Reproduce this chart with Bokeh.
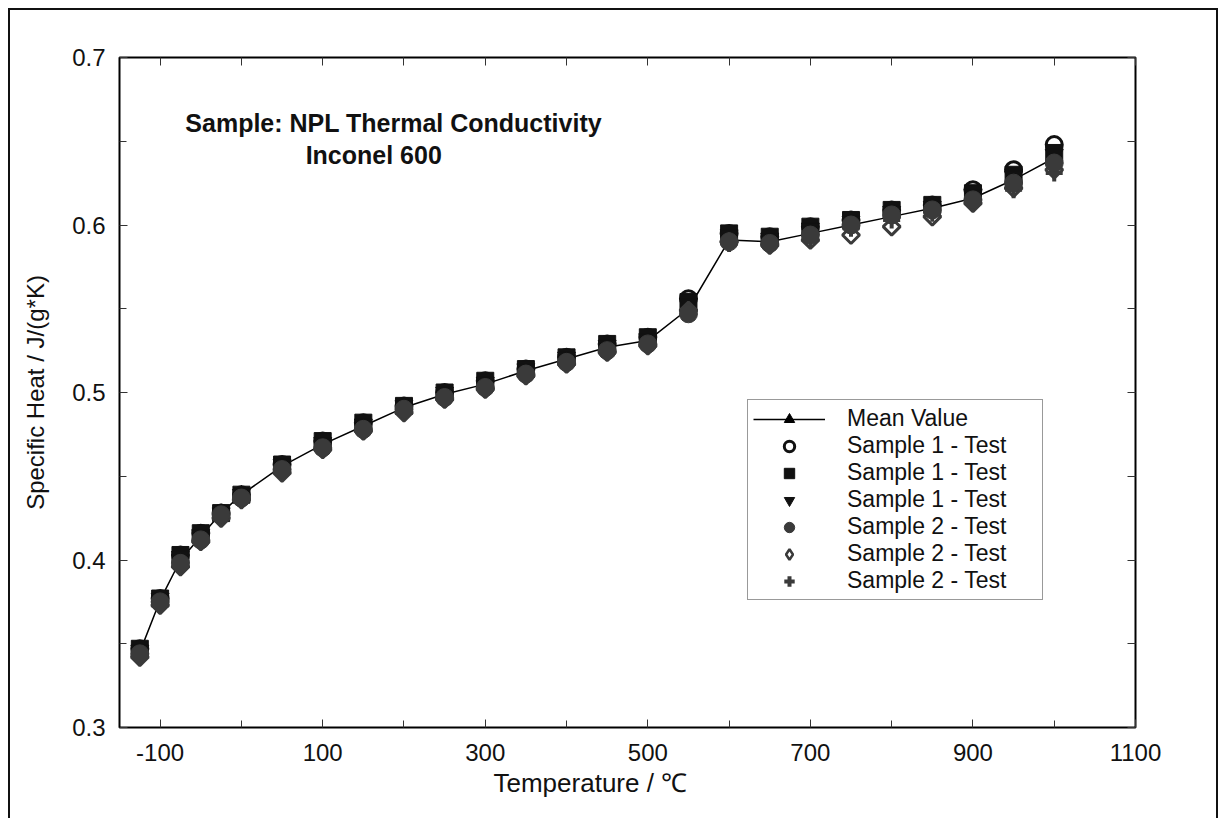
import numpy as np
from bokeh.plotting import figure
from bokeh.models import FixedTicker, LinearAxis, Legend, LegendItem, Label, Range1d, Title
from bokeh.embed import file_html
from bokeh.resources import INLINE

# ---------------- data ----------------
temperature = [-125, -100, -75, -50, -25, 0, 50, 100, 150, 200, 250, 300, 350, 400,
               450, 500, 550, 600, 650, 700, 750, 800, 850, 900, 950, 1000]
mean_value = [0.345, 0.376, 0.400, 0.414, 0.428, 0.439, 0.456, 0.469, 0.480, 0.491, 0.499, 0.505,
              0.513, 0.520, 0.527, 0.531, 0.550, 0.591, 0.590, 0.595, 0.600, 0.605, 0.610, 0.616,
              0.627, 0.640]
s1_test_a = [0.347, 0.377, 0.403, 0.416, 0.428, 0.439, 0.457, 0.471, 0.482, 0.492, 0.500, 0.507,
             0.514, 0.521, 0.529, 0.533, 0.556, 0.595, 0.593, 0.599, 0.603, 0.609, 0.612, 0.621,
             0.633, 0.648]
s1_test_b = [0.347, 0.377, 0.403, 0.416, 0.428, 0.439, 0.457, 0.471, 0.482, 0.492, 0.500, 0.507,
             0.514, 0.521, 0.529, 0.533, 0.554, 0.595, 0.593, 0.599, 0.603, 0.609, 0.612, 0.619,
             0.630, 0.643]
s1_test_c = [0.346, 0.377, 0.402, 0.415, 0.428, 0.439, 0.457, 0.470, 0.481, 0.492, 0.500, 0.506,
             0.514, 0.521, 0.528, 0.532, 0.553, 0.594, 0.592, 0.598, 0.602, 0.608, 0.611, 0.618,
             0.629, 0.642]
s2_test_a = [0.344, 0.375, 0.398, 0.412, 0.427, 0.437, 0.454, 0.467, 0.478, 0.490, 0.497, 0.503,
             0.511, 0.518, 0.525, 0.529, 0.547, 0.590, 0.589, 0.594, 0.600, 0.606, 0.609, 0.615,
             0.625, 0.637]
s2_test_b = [0.342, 0.373, 0.396, 0.411, 0.425, 0.436, 0.452, 0.466, 0.477, 0.488, 0.496, 0.502,
             0.510, 0.517, 0.524, 0.528, 0.549, 0.590, 0.588, 0.591, 0.594, 0.599, 0.605, 0.613,
             0.622, 0.633]
s2_test_c = [0.343, 0.374, 0.397, 0.411, 0.426, 0.437, 0.453, 0.466, 0.477, 0.489, 0.496, 0.502,
             0.510, 0.517, 0.524, 0.528, 0.548, 0.589, 0.588, 0.592, 0.598, 0.603, 0.607, 0.613,
             0.621, 0.631]

series_labels = ["Mean Value", "Sample 1 - Test", "Sample 1 - Test", "Sample 1 - Test",
                 "Sample 2 - Test", "Sample 2 - Test", "Sample 2 - Test"]
x_major = [-100, 100, 300, 500, 700, 900, 1100]
x_minor = [0, 200, 400, 600, 800, 1000]
x_tick_labels = ["-100", "100", "300", "500", "700", "900", "1100"]
y_major = [0.3, 0.4, 0.5, 0.6, 0.7]
y_minor = [0.35, 0.45, 0.55, 0.65]
y_tick_labels = ["0.3", "0.4", "0.5", "0.6", "0.7"]
x_title = "Temperature / \u2103"
y_title = "Specific Heat / J/(g*K)"
note_1 = "Sample: NPL Thermal Conductivity"
note_2 = "Inconel 600"

FONT = "Liberation Sans"
BLACK = "#111111"
GRAY = "#3a3a3a"

p = figure(frame_width=1016, frame_height=670,
           min_border_left=109, min_border_top=47, min_border_right=81, min_border_bottom=91,
           x_range=Range1d(-150, 1100), y_range=Range1d(0.3, 0.7),
           output_backend="svg", toolbar_location=None,
           x_axis_location=None, y_axis_location=None)
p.styles = {"margin-left": "8px", "margin-top": "8px",
            "border-top": "2px solid #111", "border-left": "2px solid #111",
            "border-right": "2px solid #111"}
p.grid.visible = False
p.outline_line_color = "#000000"
p.outline_line_width = 2
p.background_fill_color = "white"
p.border_fill_color = "white"

xt = FixedTicker(ticks=x_major, minor_ticks=x_minor)
yt = FixedTicker(ticks=y_major, minor_ticks=y_minor)
# mirror axes: every tick position drawn as an unlabelled (minor) tick
xt_mirror = FixedTicker(ticks=[], minor_ticks=sorted(x_major + x_minor))
yt_mirror = FixedTicker(ticks=[], minor_ticks=sorted(y_major + y_minor))


def style_axis(ax):
    ax.axis_line_color = None
    ax.major_tick_in = 8
    ax.major_tick_out = 0
    ax.minor_tick_in = 7
    ax.minor_tick_out = 0
    ax.major_tick_line_color = "#333333"
    ax.minor_tick_line_color = "#333333"
    ax.major_tick_line_width = 1
    ax.minor_tick_line_width = 1
    ax.major_label_text_font = FONT
    ax.major_label_text_font_size = "24px"
    ax.major_label_text_color = "#111111"


xb = LinearAxis(ticker=xt, major_label_overrides=dict(zip(x_major, x_tick_labels)))
style_axis(xb)
xb.major_label_standoff = 16
p.add_layout(xb, "below")
p.add_layout(Title(text=x_title, align="left", offset=374, standoff=4, text_font=FONT,
                   text_font_size="26px", text_font_style="normal", text_color="#111111"),
             "below")

yl = LinearAxis(ticker=yt, major_label_overrides=dict(zip(y_major, y_tick_labels)),
                axis_label=y_title)
style_axis(yl)
yl.major_label_standoff = 14
yl.axis_label_text_font = FONT
yl.axis_label_text_font_size = "24px"
yl.axis_label_text_font_style = "normal"
yl.axis_label_text_color = "#111111"
yl.axis_label_standoff = 20
p.add_layout(yl, "left")

xtop = LinearAxis(ticker=xt_mirror)
style_axis(xtop)
xtop.minor_tick_in = 8
p.add_layout(xtop, "above")
yr = LinearAxis(ticker=yt_mirror)
style_axis(yr)
yr.minor_tick_in = 8
p.add_layout(yr, "right")

# ---------------- glyphs ----------------
r_line = p.line(temperature, mean_value, line_color="black", line_width=1.5)
r_mean = p.scatter(temperature, mean_value, marker="triangle", size=16, color="black")
r_1a = p.scatter(temperature, s1_test_a, marker="circle", size=16, fill_color="white",
                 line_color=BLACK, line_width=3)
r_1b = p.scatter(temperature, s1_test_b, marker="square", size=17, color=BLACK)
r_1c = p.scatter(temperature, s1_test_c, marker="inverted_triangle", size=18, color=BLACK)
# open diamonds: drawn as a square turned by 45 degrees
r_2b = p.scatter(temperature, s2_test_b, marker="square", angle=np.pi / 4, size=12,
                 fill_color="white", line_color=GRAY, line_width=3)
# legend swatch for the diamonds (the legend does not turn markers)
r_2b_key = p.scatter(temperature, s2_test_b, marker="diamond", size=18,
                     fill_color="white", line_color=GRAY, line_width=2.5, visible=False)
r_2c = p.scatter(temperature, s2_test_c, marker="cross", size=17, line_color=GRAY, line_width=4)
r_2a = p.scatter(temperature, s2_test_a, marker="circle", size=18, color=GRAY)

legend = Legend(items=[
    LegendItem(label=series_labels[0], renderers=[r_line, r_mean]),
    LegendItem(label=series_labels[1], renderers=[r_1a]),
    LegendItem(label=series_labels[2], renderers=[r_1b]),
    LegendItem(label=series_labels[3], renderers=[r_1c]),
    LegendItem(label=series_labels[4], renderers=[r_2a]),
    LegendItem(label=series_labels[5], renderers=[r_2b_key]),
    LegendItem(label=series_labels[6], renderers=[r_2c]),
], location=(628, 127))
legend.glyph_width = 72
legend.glyph_height = 26
legend.spacing = 0
legend.padding = 5
legend.margin = 0
legend.label_standoff = 22
legend.label_width = 190
legend.label_height = 20
legend.label_text_font = FONT
legend.label_text_font_size = "23px"
legend.label_text_line_height = 1.0
legend.label_text_color = "#111111"
legend.border_line_color = "#333333"
legend.border_line_width = 1.5
legend.background_fill_alpha = 1.0
p.add_layout(legend)

p.add_layout(Label(x=-69, y=0.6606, text=note_1, text_font=FONT, text_font_size="25px",
                   text_font_style="bold", text_color="#111111", text_baseline="middle"))
p.add_layout(Label(x=79, y=0.6415, text=note_2, text_font=FONT, text_font_size="25px",
                   text_font_style="bold", text_color="#111111", text_baseline="middle"))

open("out.html", "w").write(file_html(p, INLINE))
